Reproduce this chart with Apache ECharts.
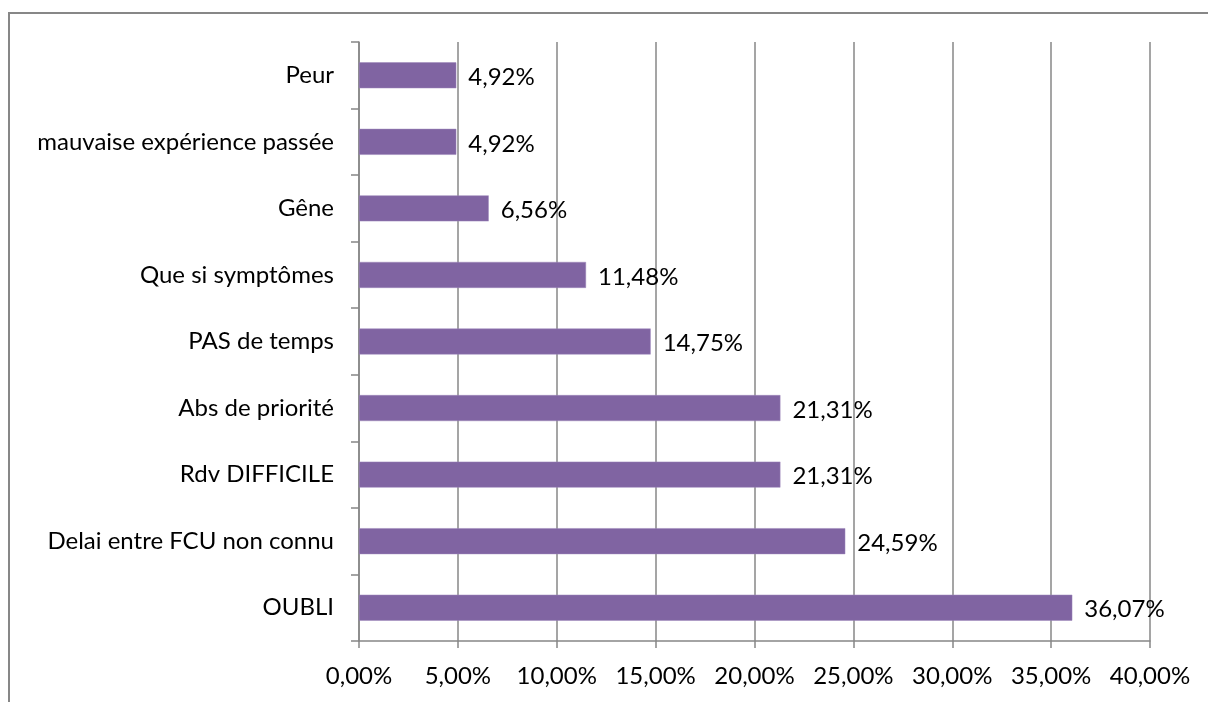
<!DOCTYPE html>
<html>
<head>
<meta charset="utf-8">
<script src="https://cdn.jsdelivr.net/npm/echarts@6/dist/echarts.min.js"></script>
<style>
  html, body { margin: 0; padding: 0; background: #fff; }
  #chart { width: 1208px; height: 702px; }
</style>
</head>
<body>
<div id="chart"></div>
<script>
// categories from bottom to top, as the axis draws them
var categories = [
  "OUBLI",
  "Delai entre FCU non connu",
  "Rdv DIFFICILE",
  "Abs de priorité",
  "PAS de temps",
  "Que si symptômes",
  "Gêne",
  "mauvaise expérience passée",
  "Peur"
];
var values = [36.07, 24.59, 21.31, 21.31, 14.75, 11.48, 6.56, 4.92, 4.92];
var xTicks = [0, 5, 10, 15, 20, 25, 30, 35, 40];

var fmt = function (v) {
  return v.toFixed(2).replace(".", ",") + "%";
};

var myChart = echarts.init(document.getElementById("chart"));
var font = "Lato, sans-serif";
var option = {
  animation: false,
  textStyle: { fontFamily: font },
  graphic: [
    {
      type: "rect",
      shape: { x: 9, y: 13, width: 1240, height: 740 },
      style: { fill: "none", stroke: "#878787", lineWidth: 2 },
      silent: true
    }
  ],
  grid: {
    left: 359,
    right: 58,
    top: 42,
    bottom: 61
  },
  xAxis: {
    type: "value",
    min: xTicks[0],
    max: xTicks[xTicks.length - 1],
    interval: 5,
    axisLine: { show: true, lineStyle: { color: "#878787", width: 1.5 } },
    axisTick: { show: true, length: 7, lineStyle: { color: "#878787", width: 1.5 } },
    splitLine: { show: true, lineStyle: { color: "#878787", width: 1.5 } },
    axisLabel: {
      margin: 23,
      color: "#000",
      fontSize: 24,
      fontFamily: font,
      formatter: fmt
    }
  },
  yAxis: {
    type: "category",
    data: categories,
    axisLine: { show: true, lineStyle: { color: "#878787", width: 1.5 } },
    axisTick: { show: true, length: 8, lineStyle: { color: "#878787", width: 1.5 } },
    axisLabel: {
      margin: 25,
      color: "#000",
      fontSize: 24,
      fontFamily: font
    }
  },
  series: [
    {
      type: "bar",
      data: values,
      barCategoryGap: "61%",
      itemStyle: { color: "#8064A2", borderColor: "#9d86ba", borderWidth: 0.5 },
      label: {
        show: true,
        position: "right",
        distance: 12,
        offset: [0, 2],
        color: "#000",
        fontSize: 24,
        fontFamily: font,
        formatter: function (p) { return fmt(p.value); }
      }
    }
  ]
};
myChart.setOption(option);
</script>
</body>
</html>
